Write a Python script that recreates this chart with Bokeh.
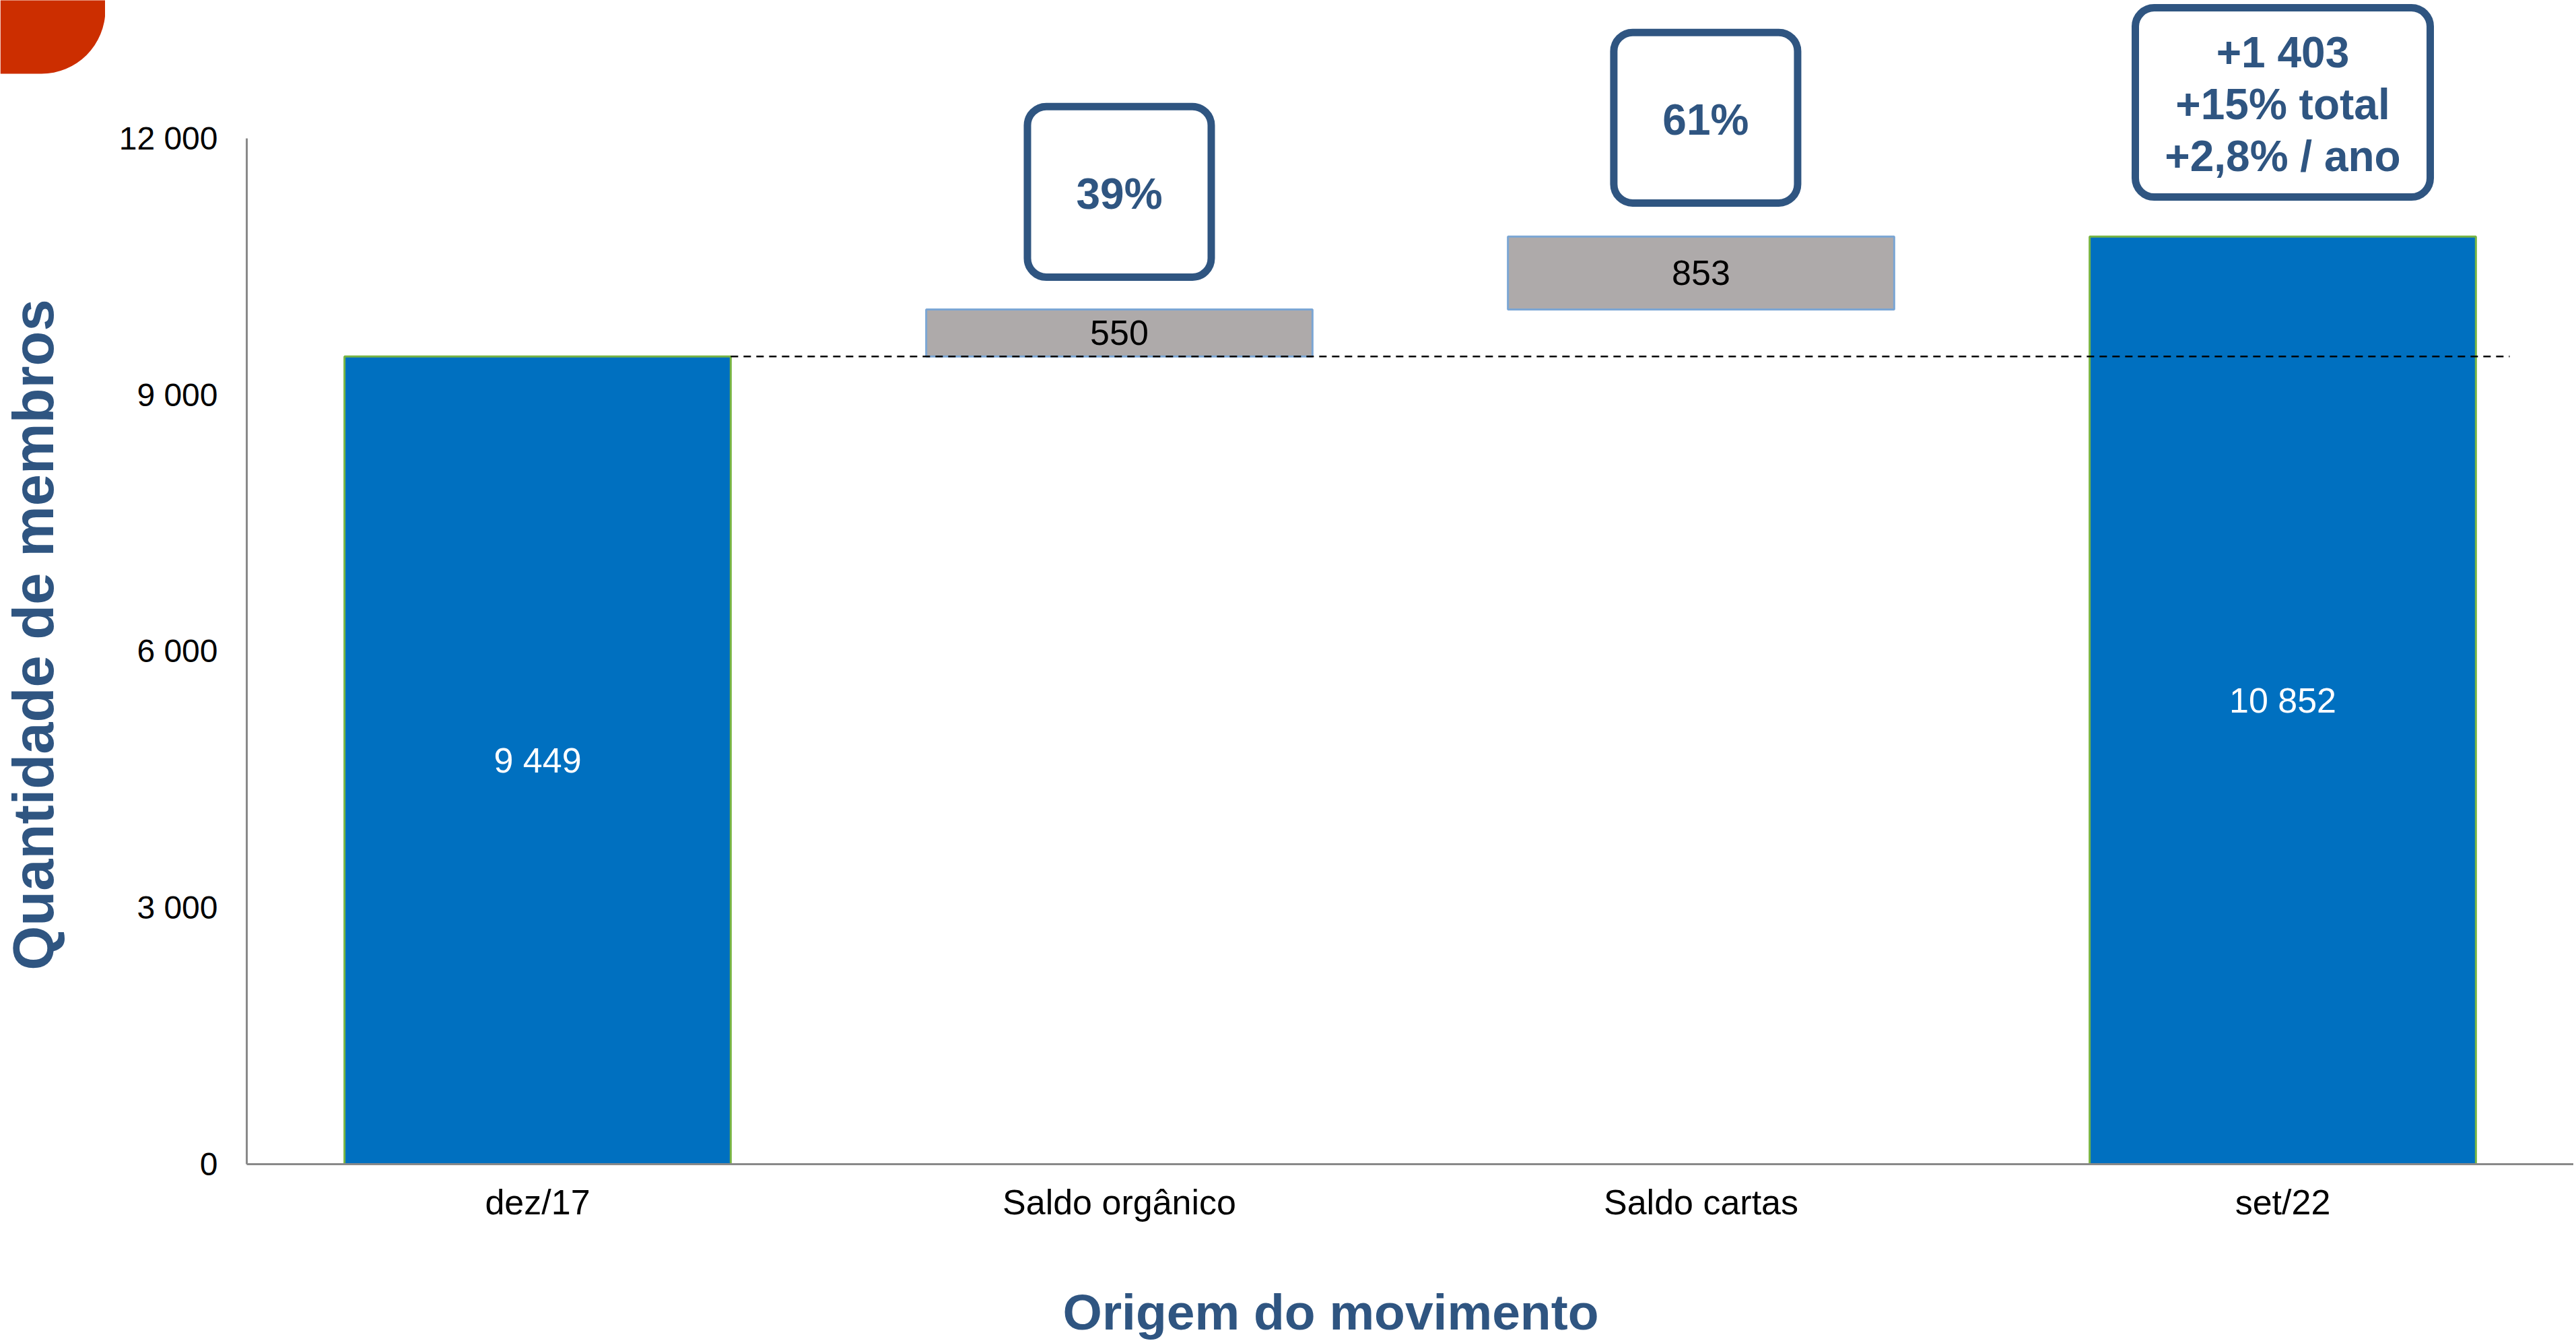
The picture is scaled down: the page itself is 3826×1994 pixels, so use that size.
import math
from bokeh.plotting import figure
from bokeh.layouts import row, column
from bokeh.models import (FactorRange, Range1d, FixedTicker, BoxAnnotation, Label,
                          ColumnDataSource)
from bokeh.embed import file_html
from bokeh.resources import INLINE
from bokeh.core.properties import value

# ---------------- data ----------------
categories = ["dez/17", "Saldo orgânico", "Saldo cartas", "set/22"]
amounts = [9449, 550, 853, 10852]
kinds = ["total", "delta", "delta", "total"]
shares = ["", "39%", "61%", ""]
summary_lines = ["+1 403", "+15% total", "+2,8% / ano"]
y_ticks = [0, 3000, 6000, 9000, 12000]
y_tick_labels = ["0", "3 000", "6 000", "9 000", "12 000"]
x_title = "Origem do movimento"
y_title = "Quantidade de membros"

# ---------------- waterfall geometry ----------------
bottoms, tops = [], []
running = 0
for a, k in zip(amounts, kinds):
    if k == "total":
        bottoms.append(0)
        tops.append(a)
        running = a
    else:
        bottoms.append(running)
        tops.append(running + a)
        running += a

def fmt(v):
    return f"{v:,}".replace(",", " ")

BLUE = "#0070C0"
GREY = "#AEAAAA"
GREEN_EDGE = "#77B443"
GREY_EDGE = "#7BA6D4"
NAVY = "#2F5581"
ORANGE = "#CC2E00"
FONT = "Liberation Sans"

fills = [BLUE if k == "total" else GREY for k in kinds]
edges = [GREEN_EDGE if k == "total" else GREY_EDGE for k in kinds]
txt_colors = ["white" if k == "total" else "black" for k in kinds]

src = ColumnDataSource(dict(
    x=categories, top=tops, bottom=bottoms,
    mid=[(b + t) / 2 for b, t in zip(bottoms, tops)],
    label=[fmt(a) for a in amounts],
    fill=fills, edge=edges, tcol=txt_colors,
))

# ---------------- layout sizes (pixels) ----------------
TOTAL_W = 3822
LEFT_W = 156          # strip holding corner shape + y title
MAIN_W = TOTAL_W - LEFT_W
TOP_H = 1870          # height of the chart row
BOT_H = 120           # strip holding the x title
FRAME_BOTTOM = 1728
AXIS_GAP = 366 - LEFT_W
Y_END = 13615
ppu = FRAME_BOTTOM / Y_END

# ---------------- main chart ----------------
p = figure(x_range=FactorRange(*categories), y_range=Range1d(0, Y_END),
           width=MAIN_W, height=TOP_H, output_backend="svg",
           toolbar_location=None, min_border_left=AXIS_GAP,
           min_border_right=0, min_border_top=0,
           min_border_bottom=TOP_H - FRAME_BOTTOM, title=None)
p.outline_line_color = None
p.xgrid.grid_line_color = None
p.ygrid.grid_line_color = None

BAR_W = 0.664
p.vbar(x="x", top="top", bottom="bottom", width=BAR_W, source=src,
       fill_color="fill", line_color="edge", line_width=3)

p.text(x="x", y="mid", text="label", source=src, text_align="center",
       text_baseline="middle", text_font=value(FONT), text_font_size="52px",
       text_color="tcol")

# dashed reference line at the starting level
p.segment(x0=[0.5 + BAR_W / 2], x1=[3.89], y0=[amounts[0]], y1=[amounts[0]],
          line_color="black", line_width=2.5, line_dash="11 8")

ax = p.yaxis[0]
ax.ticker = FixedTicker(ticks=y_ticks)
ax.major_label_overrides = {t: l for t, l in zip(y_ticks, y_tick_labels)}
ax.bounds = (y_ticks[0], y_ticks[-1])
ax.axis_line_color = "#898989"
ax.axis_line_width = 3
ax.major_tick_line_color = None
ax.minor_tick_line_color = None
ax.major_label_text_font = FONT
ax.major_label_text_font_size = "48px"
ax.major_label_text_color = "black"
ax.major_label_standoff = 37

bx = p.xaxis[0]
bx.axis_line_color = "#898989"
bx.axis_line_width = 3
bx.major_tick_line_color = None
bx.minor_tick_line_color = None
bx.major_label_text_font = FONT
bx.major_label_text_font_size = "52px"
bx.major_label_text_color = "black"
bx.major_label_standoff = 21

def callout(center, half_w, bottom, top):
    p.add_layout(BoxAnnotation(left=center - half_w, right=center + half_w,
                               bottom=bottom, top=top, fill_color="white",
                               fill_alpha=1.0, line_color=NAVY, line_width=11,
                               line_alpha=1.0, border_radius=28, level="overlay"))

def box_text(x, y, text):
    p.add_layout(Label(x=x, y=y, text=text, text_align="center",
                       text_baseline="middle", text_font=FONT,
                       text_font_style="bold", text_font_size="64px",
                       text_color=NAVY, level="overlay"))

for i, s in enumerate(shares):
    if not s:
        continue
    off = 378 if i == 1 else 392
    cx = i + 0.5 + (0.0 if i == 1 else 0.008)
    b = tops[i] + off
    t = b + 1995
    callout(cx, 0.158, b, t)
    box_text(cx, (b + t) / 2 - 3 / ppu, s)

b = tops[3] + 462
t = b + 2214
callout(3.5, 0.2535, b, t)
cy = (b + t) / 2
step = 77 / ppu
for j, line in enumerate(summary_lines):
    box_text(3.5, cy + step * (1 - j) - 3 / ppu, line)

# ---------------- left strip: corner shape + y title ----------------
# (its frame is aligned to the main chart frame: 0..FRAME_BOTTOM px tall)
lf = figure(width=LEFT_W, height=TOP_H, output_backend="svg",
            toolbar_location=None, x_range=Range1d(0, LEFT_W),
            y_range=Range1d(FRAME_BOTTOM, 0), x_axis_location=None,
            y_axis_location=None, min_border=0,
            min_border_bottom=TOP_H - FRAME_BOTTOM, title=None)
lf.outline_line_color = None
lf.xgrid.grid_line_color = None
lf.ygrid.grid_line_color = None
lf.add_layout(BoxAnnotation(left=0, right=LEFT_W, top=-40, bottom=109,
                            fill_color=ORANGE, fill_alpha=1.0, line_color=None,
                            border_radius=(0, 0, 95, 0)))
lf.text(x=[49], y=[942], text=[y_title], angle=math.pi / 2,
        text_align="center", text_baseline="middle", text_font=value(FONT),
        text_font_style="bold", text_font_size="85px", text_color=NAVY)

# ---------------- bottom strip: x title ----------------
bf = figure(width=TOTAL_W, height=BOT_H, output_backend="svg",
            toolbar_location=None, x_range=Range1d(0, TOTAL_W),
            y_range=Range1d(BOT_H, 0), x_axis_location=None,
            y_axis_location=None, min_border=0, title=None)
bf.outline_line_color = None
bf.xgrid.grid_line_color = None
bf.ygrid.grid_line_color = None
bf.text(x=[1976], y=[1947 - TOP_H], text=[x_title], text_align="center",
        text_baseline="middle", text_font=value(FONT), text_font_style="bold",
        text_font_size="75px", text_color=NAVY)

layout = column(row(lf, p, spacing=0), bf, spacing=0)
open("out.html", "w").write(file_html(layout, INLINE))
